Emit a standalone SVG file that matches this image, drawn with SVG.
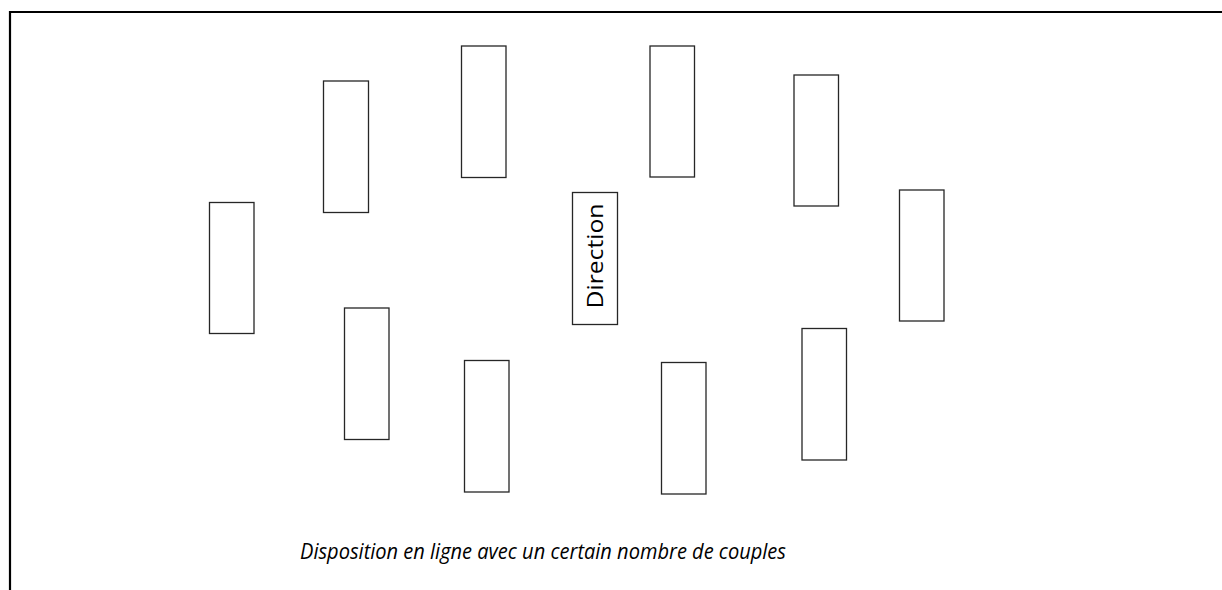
<svg xmlns="http://www.w3.org/2000/svg" width="1222" height="590" viewBox="0 0 1222 590">
<style>
.seat{fill:#fff;stroke:#262626;stroke-width:1.3}
.frame{fill:none;stroke:#000;stroke-width:2.2}
.lbl{font-family:"Open Sans","Liberation Sans",sans-serif;font-size:21px;fill:#000}
.cap{font-family:"Open Sans","Liberation Sans",sans-serif;font-style:italic;font-size:21.5px;fill:#000}
</style>
<rect width="1222" height="590" fill="#fff"/>
<path class="frame" d="M10,590 V12 H1222"/>
<g id="seat1"><rect class="seat" x="209.5" y="202.5" width="44.5" height="131"/></g>
<g id="seat2"><rect class="seat" x="323.5" y="81" width="45" height="131.5"/></g>
<g id="seat3"><rect class="seat" x="461.5" y="46" width="44.5" height="131.5"/></g>
<g id="seat4"><rect class="seat" x="650" y="46" width="44.5" height="131"/></g>
<g id="seat5"><rect class="seat" x="794" y="75" width="44.5" height="131"/></g>
<g id="seat6"><rect class="seat" x="899.5" y="190" width="44.5" height="131"/></g>
<g id="seat7"><rect class="seat" x="802" y="328.5" width="44.5" height="131.5"/></g>
<g id="seat8"><rect class="seat" x="661.5" y="362.5" width="44.5" height="131.5"/></g>
<g id="seat9"><rect class="seat" x="464.5" y="360.5" width="44.5" height="131.5"/></g>
<g id="seat10"><rect class="seat" x="344.5" y="308" width="44.5" height="131.5"/></g>
<g id="direction">
<rect class="seat" x="572.5" y="192.5" width="45" height="132"/>
<text class="lbl" transform="translate(603,256) rotate(-90)" text-anchor="middle" textLength="105" lengthAdjust="spacingAndGlyphs">Direction</text>
</g>
<g id="connectors"/>
<text class="cap" x="543" y="559" text-anchor="middle" textLength="486" lengthAdjust="spacingAndGlyphs">Disposition en ligne avec un certain nombre de couples</text>
</svg>
